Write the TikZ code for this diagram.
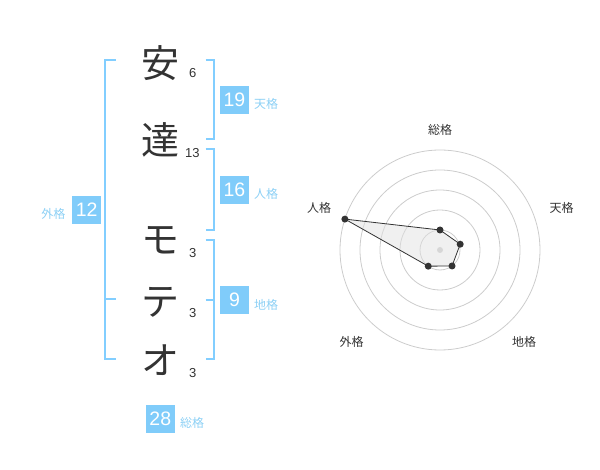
\documentclass[tikz,border=0pt]{standalone}
\usepackage{fontspec}
\setmainfont{Liberation Sans}
\newfontfamily\jp{Noto Sans CJK JP}
\definecolor{boxblue}{RGB}{128,204,250}
\definecolor{lineblue}{RGB}{130,206,255}
\definecolor{lblblue}{RGB}{140,208,245}
\definecolor{ink}{RGB}{51,51,51}
\definecolor{ring}{RGB}{204,204,204}
\definecolor{polyfill}{RGB}{225,225,225}
\begin{document}
\begin{tikzpicture}[x=1pt,y=-1pt,
  bigchar/.style={font=\jp\fontsize{38}{38}\selectfont, text=ink, inner sep=0pt},
  strokes/.style={font=\fontsize{13}{13}\selectfont, text=ink, inner sep=0pt},
  numbox/.style={fill=boxblue, text=white, minimum width=29pt, minimum height=28pt, inner sep=0pt, font=\fontsize{19.5}{19.5}\selectfont},
  kaku/.style={font=\jp\fontsize{12}{12}\selectfont, text=lblblue, inner sep=0pt},
  radlbl/.style={font=\jp\fontsize{12}{12}\selectfont, text=ink, inner sep=0pt},
  bracket/.style={draw=lineblue, line width=2pt},
  dot/.style={circle, fill=ink, inner sep=0pt, minimum size=7pt}]
\useasboundingbox (0,0) rectangle (600,470);
% characters
\node[bigchar] (c1) at (160,63) {安};
\node[bigchar] (c2) at (160,140) {達};
\node[bigchar] (c3) at (160,240) {モ};
\node[bigchar] (c4) at (160,302) {テ};
\node[bigchar] (c5) at (160,360) {オ};
\node[strokes] (s1) at (192.7,72.7) {6};
\node[strokes] (s2) at (192.3,152.7) {13};
\node[strokes] (s3) at (192.7,253.3) {3};
\node[strokes] (s4) at (192.7,313.3) {3};
\node[strokes] (s5) at (192.7,372.7) {3};
% brackets
\draw[bracket] (115.7,60) -- (105,60) -- (105,359.3) -- (115.7,359.3);
\draw[bracket] (105,299) -- (115.7,299);
\draw[bracket] (205.7,60) -- (214.3,60) -- (214.3,139.3) -- (205.7,139.3);
\draw[bracket] (205.7,149.3) -- (214.3,149.3) -- (214.3,230) -- (205.7,230);
\draw[bracket] (205.7,240) -- (214.3,240) -- (214.3,359.3) -- (205.7,359.3);
\draw[bracket] (205.7,300) -- (214.3,300);
% boxes
\node[numbox] (ten) at (234.5,100) {19};
\node[numbox] (jin) at (234.5,190) {16};
\node[numbox] (gai) at (86.7,210) {12};
\node[numbox] (chi) at (234.5,300) {9};
\node[numbox] (sou) at (160.3,419) {28};
\node[kaku, anchor=west] (tenl) at (254,104) {天格};
\node[kaku, anchor=west] (jinl) at (254,194) {人格};
\node[kaku] (gail) at (53.3,214) {外格};
\node[kaku, anchor=west] (chil) at (254,305) {地格};
\node[kaku, anchor=west] (soul) at (180,423) {総格};
% radar
\begin{scope}[shift={(440,250)}, yscale=-1]
  \coordinate (p1) at (90:20);
  \coordinate (p2) at (16:21);
  \coordinate (p3) at (-53:20);
  \coordinate (p4) at (-126:20);
  \coordinate (p5) at (162:100);
  \foreach \r in {20,40,60,80,100} \draw[ring, line width=0.8pt] (0,0) circle (\r);
  \fill[ring] (0,0) circle (3);
  \fill[polyfill, fill opacity=0.5] (p1) -- (p2) -- (p3) -- (p4) -- (p5) -- cycle;
  \draw[ink, line width=0.8pt] (p1) -- (p2) -- (p3) -- (p4) -- (p5) -- cycle;
  \foreach \p in {p1,p2,p3,p4,p5} \node[dot] at (\p) {};
\end{scope}
\node[radlbl] (rsou) at (440,130) {総格};
\node[radlbl] (rten) at (561.7,208.3) {天格};
\node[radlbl] (rjin) at (319,208.3) {人格};
\node[radlbl] (rgai) at (351.7,341.7) {外格};
\node[radlbl] (rchi) at (524,341.7) {地格};
\end{tikzpicture}
\end{document}
